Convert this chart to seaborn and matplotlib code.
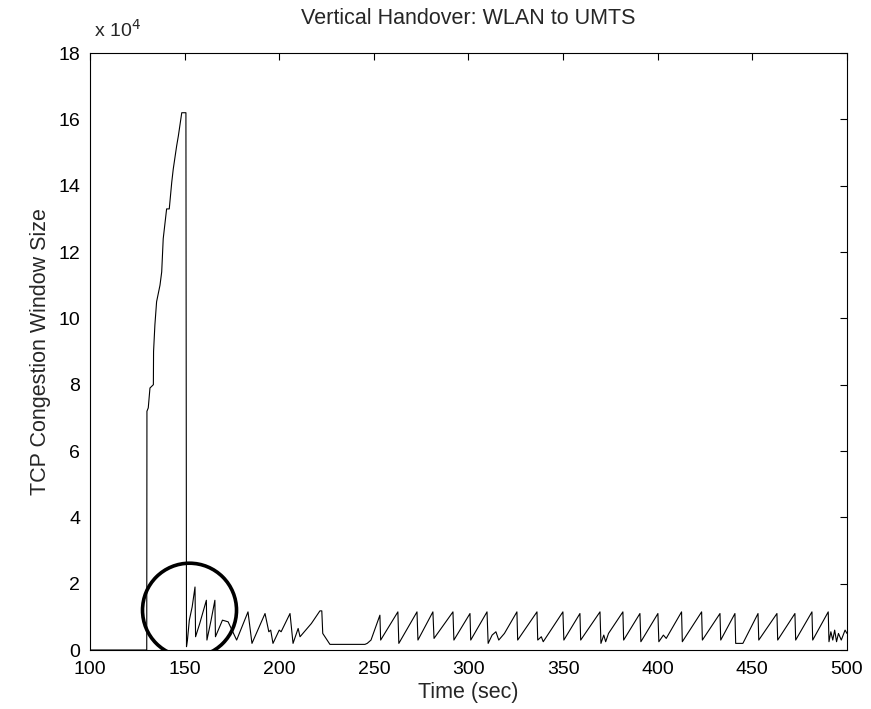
import numpy as np
import pandas as pd
import matplotlib
matplotlib.use("Agg")
import matplotlib.pyplot as plt
import seaborn as sns

# ---- data (cwnd in units of 10^4) ----
# before handover: idle, then WLAN slow start ramp
wlan_t = [100.0, 130.0, 130.1, 130.8, 131.7, 133.5, 133.6, 134.3, 135.2, 137.0,
          137.9, 138.7, 140.5, 141.9, 143.2, 144.0, 145.8, 146.7, 148.5, 150.7, 151.0]
wlan_v = [0.0, 0.0, 7.2, 7.3, 7.9, 8.0, 9.0, 9.8, 10.5, 11.0,
          11.4, 12.4, 13.3, 13.3, 14.1, 14.5, 15.2, 15.5, 16.2, 16.2, 0.1]

# handover period (inside the circle)
ho_t = [151.5, 152.5, 154.0, 155.5, 155.8, 158.0, 161.5, 161.8, 164.0, 166.0,
        166.3, 170.0, 173.0, 177.5]
ho_v = [0.3, 0.9, 1.3, 1.9, 0.4, 0.8, 1.5, 0.3, 0.9, 1.5,
        0.4, 0.9, 0.85, 0.3]

# UMTS, first part and idle gap
umts1_t = [183.5, 185.6, 192.5, 194.5, 195.5, 196.7, 200.0, 201.0, 205.7, 207.3,
           210.0, 211.0, 217.0, 221.5, 222.5, 223.0, 226.8, 245.3, 246.5]
umts1_v = [1.15, 0.2, 1.1, 0.55, 0.6, 0.2, 0.6, 0.55, 1.1, 0.2,
           0.65, 0.4, 0.8, 1.18, 1.18, 0.5, 0.17, 0.17, 0.2]

# UMTS, second part (sawtooth)
umts2_t = [248.5, 253.2, 253.6, 262.7, 263.2, 272.8, 273.3, 281.2, 281.8, 291.8,
           292.3, 300.8, 301.2, 309.8, 310.4, 312.5, 314.5, 316.0, 319.0, 325.6,
           326.0, 336.2, 336.6, 338.5, 339.5, 349.9, 350.4, 358.9, 359.3, 369.5,
           370.0, 371.5, 372.5, 374.0, 381.6, 382.0, 390.6, 391.1, 400.1, 400.6,
           403.0, 404.5, 412.6, 413.0, 423.2, 423.6, 432.9, 433.3, 440.8, 441.2,
           445.0, 453.0, 453.4, 463.0, 463.4, 472.5, 472.9, 481.5, 481.9, 490.1,
           490.5, 491.5, 492.5, 493.5, 494.5, 495.5, 497.0, 499.0, 500.0]
umts2_v = [0.3, 1.05, 0.3, 1.15, 0.2, 1.15, 0.3, 1.15, 0.35, 1.15,
           0.3, 1.1, 0.3, 1.15, 0.2, 0.45, 0.55, 0.3, 0.5, 1.15,
           0.3, 1.15, 0.3, 0.4, 0.25, 1.15, 0.3, 1.1, 0.3, 1.15,
           0.2, 0.45, 0.25, 0.5, 1.15, 0.3, 1.1, 0.25, 1.1, 0.25,
           0.45, 0.35, 1.15, 0.25, 1.15, 0.3, 1.1, 0.3, 1.1, 0.2,
           0.2, 1.1, 0.3, 1.1, 0.3, 1.1, 0.3, 1.15, 0.3, 1.15,
           0.25, 0.55, 0.3, 0.6, 0.25, 0.5, 0.3, 0.6, 0.5]

circle_t = 152.6
circle_v = 1.2

x_ticks = [100, 150, 200, 250, 300, 350, 400, 450, 500]
y_ticks = [0, 2, 4, 6, 8, 10, 12, 14, 16, 18]

df = pd.DataFrame({
    "t": wlan_t + ho_t + umts1_t + umts2_t,
    "cwnd": wlan_v + ho_v + umts1_v + umts2_v,
})

sns.set_theme(style="white")
plt.rcParams['font.family'] = ['Liberation Sans', 'DejaVu Sans']

fig = plt.figure(figsize=(8.71, 7.09), dpi=100)
ax = fig.add_axes([0.1033, 0.0832, 0.8691, 0.842])

sns.lineplot(data=df, x="t", y="cwnd", ax=ax, sort=False, estimator=None,
             color="black", linewidth=0.8)

# circle marking the handover
ax.scatter([circle_t], [circle_v], s=4580, facecolors="none",
           edgecolors="black", linewidths=2.6, zorder=5)

ax.set_xlim(100, 500)
ax.set_ylim(0, 18)
ax.set_xticks(x_ticks)
ax.set_yticks(y_ticks)
ax.tick_params(direction="in", top=True, right=True, length=5, width=0.8,
               labelsize=14, colors="black")
ax.tick_params(axis="x", pad=8)
ax.tick_params(axis="y", pad=7)
for s in ax.spines.values():
    s.set_color("black")
    s.set_linewidth(0.8)

ax.set_title("Vertical Handover: WLAN to UMTS", fontsize=15.5, pad=21)
ax.set_xlabel("Time (sec)", fontsize=15.5, labelpad=3)
ax.set_ylabel("TCP Congestion Window Size", fontsize=15.5, labelpad=5)
ax.text(0.005, 1.02, r"x 10$^4$", transform=ax.transAxes, fontsize=14,
        ha="left", va="bottom")

plt.savefig("out.png", dpi=100)
